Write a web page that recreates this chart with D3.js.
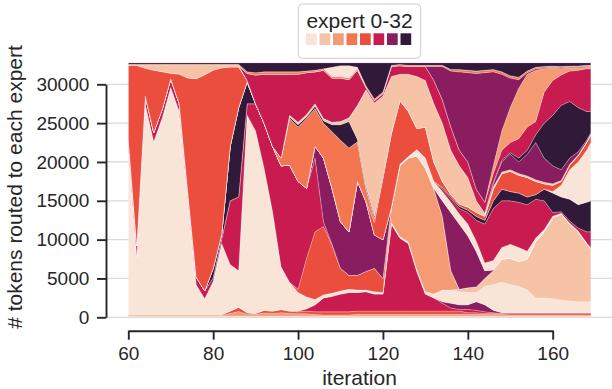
<!DOCTYPE html>
<html>
<head>
<meta charset="utf-8">
<script src="https://cdn.jsdelivr.net/npm/d3@7"></script>
<style>
  body { margin: 0; background: #fff; }
  svg { display: block; font-family: "Liberation Sans", Arial, sans-serif; }
</style>
</head>
<body>
<script>
// iterations sampled every 2 steps (last one is 169)
const iterations = [60,62,64,66,68,70,72,74,76,78,80,82,84,86,88,90,92,94,96,98,100,102,104,106,108,110,112,114,116,118,120,122,124,126,128,130,132,134,136,138,140,142,144,146,148,150,152,154,156,158,160,162,164,166,168,169];

// tokens per expert band, bottom of the stack first
const expert00 = [150,150,150,150,150,150,150,150,150,150, 150,150,150,150,150,150,150,150,150,150, 150,150,150,150,150,150,150,150,150,150, 150,150,150,150,150,150,150,150,150,150, 150,150,150,150,150,150,150,150,150,150, 150,150,150,150,150,150];
const expert01 = [100,100,100,100,100,100,100,100,100,100, 100,100,350,600,250,200,400,350,450,350, 300,300,200,150,150,150,150,250,250,250, 250,250,250,250,250,250,250,250,250,250, 250,250,200,200,200,150,150,150,150,150, 150,150,150,150,150,150];
const expert02 = [100,100,100,100,100,100,100,100,100,100, 100,100,300,550,200,150,350,300,400,300, 250,350,350,400,400,400,400,400,400,400, 400,400,400,400,400,400,400,400,400,400, 200,200,150,150,150,200,200,200,200,200, 200,200,200,200,200,200];
const expert03 = [0,0,0,0,0,0,0,0,0,0, 0,0,0,0,0,0,0,0,0,0, 100,300,900,1800,2000,2300,2500,2400,2500,2200, 2200,11200,9400,8700,5100,2200,1700,1000,400,200, 400,300,200,100,0,0,0,0,0,0, 0,0,0,0,0,0];
const expert04 = [0,0,0,0,0,0,0,0,0,0, 0,0,0,0,0,0,0,0,0,0, 0,0,0,0,0,0,0,0,0,0, 0,0,0,0,0,0,0,200,600,600, 600,1100,900,300,100,100,100,100,100,100, 100,100,100,100,100,100];
const expert05 = [21650,7450,27050,22250,25350,29250,26150,15050,3850,2050, 4250,9150,6000,4700,25400,23500,18300,12800,5500,3700, 2400,1500,700,400,400,400,400,300,200,300, 200,200,200,200,200,300,500,1500,1700,1700, 1600,1200,2400,3300,3900,3600,3400,2900,1900,1900, 1800,1600,1500,1400,1400,1400];
const expert06 = [0,0,0,0,0,0,0,0,0,0, 0,0,0,0,0,0,0,0,0,0, 0,0,0,0,0,0,0,0,0,0, 0,0,0,0,0,0,0,0,0,300, 600,700,1000,1800,3000,3400,3200,4000,7300,8500, 10400,11100,9900,9000,7500,6800];
const expert07 = [0,0,0,0,0,0,0,0,0,0, 0,0,0,0,0,0,0,0,0,0, 0,0,0,0,0,0,0,0,0,0, 0,2000,9100,10800,14700,15900,13500,9500,2500,0, 0,0,0,0,0,0,0,0,0,0, 0,0,0,0,0,0];
const expert08 = [0,0,0,0,0,0,0,0,0,0, 0,0,0,0,0,0,0,0,0,0, 400,5000,8700,8800,6200,2900,1800,1900,2400,3000, 1800,0,0,0,0,0,0,0,0,0, 0,0,0,0,0,0,0,0,0,0, 0,0,0,0,0,0];
const expert09 = [1000,1400,1100,1200,1100,1100,1000,900,1000,1000, 500,600,8200,9500,1500,3500,5800,8400,13000,15100, 13900,9000,9500,600,100,0,0,0,0,0, 0,0,0,0,0,0,0,0,0,0, 0,0,0,0,0,0,0,0,0,0, 0,0,0,0,0,0];
const expert10 = [0,0,0,0,0,0,0,0,0,0, 0,0,0,0,0,0,0,0,0,0, 0,0,1500,8200,7200,6000,5600,12100,9000,4300, 5000,0,0,0,0,0,100,2000,7500,8400, 6700,4600,1000,100,0,0,0,0,0,0, 0,0,0,0,0,0];
const expert11 = [0,0,0,0,0,0,0,0,0,0, 1200,600,7000,11500,2800,0,0,0,0,0, 0,0,0,0,0,0,0,0,0,0, 0,0,0,0,0,0,0,0,0,0, 0,0,0,0,0,0,0,0,0,0, 0,0,0,0,0,0];
const expert12 = [0,0,0,0,0,0,0,0,0,0, 0,0,0,0,0,0,0,0,0,0, 0,0,0,0,0,0,0,0,0,0, 0,0,200,200,800,1300,900,1200,1300,1300, 1500,1300,1000,1200,1500,1800,1800,1000,400,300, 200,100,100,100,100,100];
const expert13 = [0,0,0,0,0,0,0,0,0,0, 0,0,0,0,0,0,0,0,0,0, 0,0,0,0,0,0,0,0,0,0, 0,0,0,0,0,0,0,300,500,700, 1500,2700,5000,6700,6000,5600,5800,6000,5000,3700, 500,200,300,400,1400,2100];
const expert14 = [0,0,0,0,0,0,0,0,0,0, 0,0,0,0,0,0,0,0,0,0, 0,0,0,0,0,0,0,0,0,0, 0,0,0,0,0,0,0,200,200,300, 300,500,500,1000,1500,1200,1200,1000,600,1500, 2500,1900,2800,3000,3800,4000];
const expert15 = [0,0,0,0,0,0,0,0,0,0, 0,0,0,0,0,0,0,0,0,0, 0,0,0,0,0,0,0,0,0,0, 0,0,0,0,0,0,0,0,0,0, 0,0,0,0,0,0,0,0,0,0, 200,1500,3800,5500,6700,7500];
const expert16 = [0,0,0,0,0,0,0,0,0,0, 0,0,0,0,0,0,0,0,0,0, 0,0,0,0,0,0,0,0,0,1600, 7900,9500,8200,5800,2700,4000,2500,800,300,300, 400,500,500,1500,2000,2600,2300,2500,1700,700, 800,500,600,800,1000,1000];
const expert17 = [0,0,0,0,0,0,0,0,0,0, 0,0,0,0,0,0,0,0,1000,6000, 7000,9000,4900,4500,7300,10500,10800,5100,1700,500, 100,0,0,0,0,0,0,0,0,0, 0,0,0,0,0,0,0,0,0,0, 0,0,0,0,0,0];
const expert18 = [9420,23220,3570,8020,4820,720,3820,14520,25520,27820, 25520,21420,10220,5220,200,0,0,0,0,0, 0,0,0,0,0,0,0,0,0,0, 0,0,0,0,0,0,0,0,0,0, 0,0,0,0,0,0,0,0,0,0, 0,0,0,0,0,0];
const expert19 = [0,0,0,0,0,0,0,0,0,0, 0,0,0,0,0,0,0,0,0,200, 300,200,300,300,900,2000,3400,300,300,300, 200,0,0,0,0,0,0,0,0,0, 0,0,0,0,0,0,0,0,0,0, 0,0,0,0,0,0];
const expert20 = [0,0,350,600,800,1000,1100,1600,1700,1200, 600,300,200,200,0,0,0,0,0,200, 300,300,300,300,300,400,500,4400,12400,14600, 10300,7300,3400,4800,6700,6000,7500,7500,5700,4900, 3800,1500,400,300,200,200,200,200,200,200, 200,100,100,100,100,100];
const expert21 = [0,0,0,0,0,0,0,0,0,0, 0,0,0,0,0,0,0,0,0,0, 0,0,0,0,0,0,0,0,0,0, 0,0,0,0,0,0,0,0,0,0, 0,0,0,400,1300,2000,1500,2800,4800,3100, 2300,1400,800,400,200,200];
const expert22 = [0,0,0,0,0,0,0,0,0,0, 0,0,0,0,0,0,0,0,0,0, 0,0,0,0,0,0,0,0,0,0, 0,0,0,0,0,0,0,0,0,0, 0,0,0,200,200,200,500,500,1000,4500, 6500,8300,7300,5700,3700,2700];
const expert23 = [0,0,0,0,0,0,0,0,0,0, 0,0,0,0,900,3700,6300,9300,10800,5300, 6200,5400,4100,6200,5700,5600,4900,4500,300,300, 300,1300,1100,1000,1300,1800,3000,3000,3000,2000, 2000,1500,1400,1100,1300,1300,2500,3000,1700,4000, 4500,3900,3900,4800,5500,5500];
const expert24 = [0,0,0,0,0,0,0,0,0,0, 0,0,0,0,0,0,0,0,0,0, 0,0,0,0,0,0,0,0,0,0, 0,0,0,0,0,0,0,0,0,0, 0,0,0,1000,2500,4500,6500,6800,6600,3000, 1600,800,400,300,200,200];
const expert25 = [0,0,0,0,0,0,0,0,0,0, 0,0,0,0,0,0,0,0,0,0, 0,0,0,0,0,0,0,0,0,0, 0,0,0,0,0,0,1800,4300,7200,10100, 11500,14900,16700,12100,7300,3800,1100,200,200,100, 100,100,100,100,100,100];
const expert26 = [150,150,150,150,150,150,150,150,150,150, 150,150,150,150,200,300,300,300,300,300, 300,200,200,200,200,200,200,200,200,200, 200,150,150,150,150,150,150,150,200,300, 300,300,300,300,300,300,300,200,200,200, 150,200,150,150,150,150];
const expert28 = [0,0,0,0,0,0,0,0,0,0, 0,0,0,0,0,0,0,0,0,0, 0,0,0,0,1200,1400,1600,200,0,0, 0,0,0,0,0,0,0,0,0,0, 0,0,0,0,0,0,0,0,0,0, 0,0,0,0,0,0];
const expert27 = [200,200,200,200,200,200,200,200,200,200, 200,200,200,200,1170,1270,1170,1170,1170,1170, 1170,1070,970,770,570,370,370,570,2970,4670, 3770,320,220,320,320,320,320,320,870,870, 970,1070,970,870,1170,1670,1870,1070,570,470, 420,470,420,420,320,320];

const yTicks = [0, 5000, 10000, 15000, 20000, 25000, 30000];
const xTicks = [60, 80, 100, 120, 140, 160];
const legendTitle = "expert 0-32";

const bands = [expert00, expert01, expert02, expert03, expert04, expert05, expert06,
  expert07, expert08, expert09, expert10, expert11, expert12, expert13, expert14,
  expert15, expert16, expert17, expert18, expert19, expert20, expert21, expert22,
  expert23, expert24, expert25, expert26, expert28, expert27];

// 8 shades, light to dark, like the legend
const palette = ['#f9e5d8', '#f6c3a6', '#f59b74', '#f37651', '#ec4e3e', '#c81c50', '#8a1d5f', '#311a39'];
const shadeOf = [0, 2, 4, 5, 6, 0, 1, 2, 4, 5, 6, 7, 0, 5, 7, 0, 4, 3, 4, 7, 1, 6, 7, 5, 2, 6, 3, 0, 7];

const W = 612, H = 389;
const total = 32768;

const svg = d3.select("body").append("svg")
  .attr("width", W)
  .attr("height", H);

const x = d3.scaleLinear().domain([60, 160]).range([128.3, 552.7]);
const y = d3.scaleLinear().domain([0, 30000]).range([317.3, 84.3]);

// horizontal grid
svg.append("g")
  .selectAll("line")
  .data(yTicks)
  .enter().append("line")
  .attr("x1", 106).attr("x2", W)
  .attr("y1", d => y(d)).attr("y2", d => y(d))
  .attr("stroke", "#dadada")
  .attr("stroke-width", 1.2);

// stacked table
const keys = bands.map((b, i) => "e" + i);
const table = iterations.map((it, j) => {
  const row = { iteration: it };
  bands.forEach((b, i) => { row["e" + i] = b[j]; });
  return row;
});

const series = d3.stack().keys(keys)(table);

const area = d3.area()
  .x(d => x(d.data.iteration))
  .y0(d => y(d[0]))
  .y1(d => y(d[1]));

svg.append("clipPath").attr("id", "plotclip")
  .append("rect")
  .attr("x", x(60)).attr("y", y(total))
  .attr("width", x(169) - x(60))
  .attr("height", y(0) - y(total));

svg.append("g")
  .attr("clip-path", "url(#plotclip)")
  .selectAll("path")
  .data(series)
  .enter().append("path")
  .attr("d", area)
  .attr("fill", (d, i) => palette[shadeOf[i]])
  .attr("stroke", "#ffffff")
  .attr("stroke-opacity", 0.4)
  .attr("stroke-width", 0.6);

// axes
const yAxis = svg.append("g")
  .attr("transform", "translate(106,0)")
  .call(d3.axisLeft(y).tickValues(yTicks).tickSize(9).tickSizeOuter(0).tickPadding(7.7).tickFormat(d3.format("d")));

const xAxis = svg.append("g")
  .attr("transform", "translate(0,330.7)")
  .call(d3.axisBottom(x).tickValues(xTicks).tickSize(9).tickSizeOuter(0).tickPadding(7).tickFormat(d3.format("d")));

[yAxis, xAxis].forEach(g => {
  g.select(".domain").attr("stroke", "#262626").attr("stroke-width", 1.9);
  g.selectAll(".tick line").attr("stroke", "#262626").attr("stroke-width", 1.9);
  g.selectAll(".tick text")
    .attr("fill", "#262626")
    .style("font-size", "19px")
    .style("font-family", '"Liberation Sans", Arial, sans-serif');
});

svg.append("text")
  .attr("x", 359.5).attr("y", 385)
  .attr("text-anchor", "middle")
  .attr("fill", "#262626")
  .style("font-size", "21px")
  .text("iteration");

svg.append("text")
  .attr("transform", "translate(22,187) rotate(-90)")
  .attr("text-anchor", "middle")
  .attr("fill", "#262626")
  .style("font-size", "21px")
  .text("# tokens routed to each expert");

// legend
const legend = svg.append("g");
legend.append("rect")
  .attr("x", 298.3).attr("y", 4)
  .attr("width", 122.4).attr("height", 54.3)
  .attr("rx", 4)
  .attr("fill", "#ffffff").attr("fill-opacity", 0.85)
  .attr("stroke", "#cccccc").attr("stroke-width", 1);
legend.append("text")
  .attr("x", 359.5).attr("y", 28.3)
  .attr("text-anchor", "middle")
  .attr("fill", "#262626")
  .style("font-size", "21px")
  .text(legendTitle);
legend.selectAll(".patch")
  .data(palette)
  .enter().append("rect")
  .attr("class", "patch")
  .attr("x", (d, i) => 306 + i * 13.5)
  .attr("y", 33.3)
  .attr("width", 10.7).attr("height", 11.7)
  .attr("fill", d => d);
</script>
</body>
</html>
